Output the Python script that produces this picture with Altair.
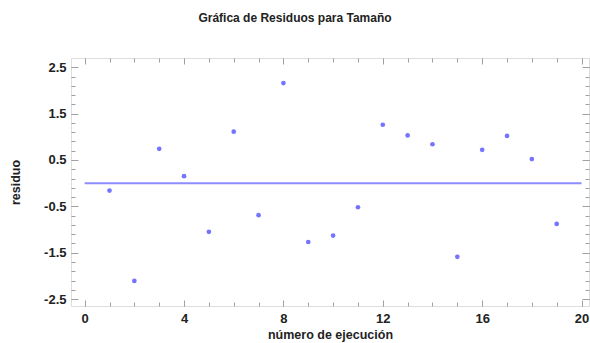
import altair as alt
import pandas as pd

run = list(range(1, 20))
residuo = [-0.16, -2.11, 0.74, 0.15, -1.05, 1.11, -0.69, 2.16, -1.27, -1.13,
           -0.52, 1.26, 1.03, 0.84, -1.59, 0.72, 1.02, 0.52, -0.88]
zero_x = [0, 20]
zero_y = [0, 0]
x_major = [0, 4, 8, 12, 16, 20]
x_minor = list(range(0, 21))
y_major = [-2.5, -1.5, -0.5, 0.5, 1.5, 2.5]
y_minor = [round(-2.5 + 0.2 * k, 1) for k in range(26)]

pts = pd.DataFrame({"run": run, "residuo": residuo})
zl = pd.DataFrame({"run": zero_x, "residuo": zero_y})

FONT = "Liberation Sans"
TXT = "#222222"
FRAME = "#a0a0a0"
xs = alt.Scale(domain=[-0.55, 20.3], nice=False, zero=False)
ys = alt.Scale(domain=[-2.65, 2.7], nice=False, zero=False)


def ax(orient, values, size, labels=False, title=None, pad=5, tpad=5):
    kw = dict(orient=orient, values=values, tickSize=size, offset=-size,
              domain=False, grid=False, ticks=True, tickColor=FRAME,
              tickWidth=1, labels=labels)
    if labels:
        kw.update(labelFont=FONT, labelFontSize=13, labelFontWeight="bold",
                  labelColor=TXT, labelPadding=pad)
        if orient in ("left", "right"):
            kw.update(labelExpr="replace(format(datum.value, '.1f'), '\u2212', '-')")
        else:
            kw.update(format="d")
    if title is not None:
        kw.update(title=title, titleFont=FONT, titleFontSize=12.5,
                  titleFontWeight="bold", titleColor=TXT, titlePadding=tpad)
    else:
        kw.update(title=None)
    return alt.Axis(**kw)


points = alt.Chart(pts).mark_circle(size=22, color="#7474ff", opacity=1).encode(
    x=alt.X("run:Q", scale=xs, axis=ax("bottom", x_major, 6, True, "número de ejecución", pad=6, tpad=3)),
    y=alt.Y("residuo:Q", scale=ys, axis=ax("left", y_major, 7, True, "residuo", pad=5, tpad=21)),
)
zero = alt.Chart(zl).mark_line(color="#8c8cff", strokeWidth=2).encode(
    x=alt.X("run:Q", scale=xs, axis=ax("top", x_major, 6)),
    y=alt.Y("residuo:Q", scale=ys, axis=ax("right", y_major, 7)),
)
minor1 = alt.Chart(pts).mark_circle(opacity=0).encode(
    x=alt.X("run:Q", scale=xs, axis=ax("bottom", x_minor, 4)),
    y=alt.Y("residuo:Q", scale=ys, axis=ax("left", y_minor, 4)),
)
minor2 = alt.Chart(pts).mark_circle(opacity=0).encode(
    x=alt.X("run:Q", scale=xs, axis=ax("top", x_minor, 4)),
    y=alt.Y("residuo:Q", scale=ys, axis=ax("right", y_minor, 4)),
)

chart = alt.layer(minor1, minor2, zero, points).resolve_axis(
    x="independent", y="independent"
).properties(
    width=518,
    height=248,
    autosize=alt.AutoSizeParams(type="none"),
    padding={"left": 71, "top": 58, "right": 1, "bottom": 37},
    title=alt.TitleParams("Gráfica de Residuos para Tamaño", font=FONT, fontSize=12,
                          fontWeight="bold", color=TXT, anchor="middle", offset=33, dx=-35),
).configure_view(stroke=FRAME, strokeWidth=1.5).configure(background="white")

chart.save("out.html", embed_options={"renderer": "svg", "actions": False})
